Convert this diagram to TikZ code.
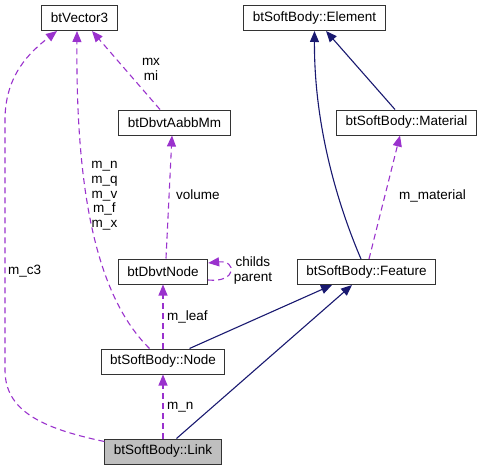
\documentclass[tikz,border=0pt]{standalone}
\usepackage{fontspec}
\setmainfont{Liberation Sans}
\usetikzlibrary{arrows.meta,positioning}
\definecolor{edgeblue}{HTML}{191970}
\definecolor{edgepurple}{HTML}{9A32CD}
\definecolor{linkgray}{HTML}{BFBFBF}

\begin{document}
\begin{tikzpicture}[
    x=1pt, y=-1pt,
    node distance=90pt,
    font=\fontsize{13.5}{14.7}\selectfont,
    box/.style={rectangle, draw=black!80, line width=1pt, fill=white, inner xsep=9pt, minimum height=25pt},
    inherit/.style={-{Triangle[length=11pt,width=9pt]}, edgeblue, line width=1.1pt},
    member/.style={-{Triangle[length=11pt,width=9pt]}, edgepurple, line width=1.1pt, dash pattern=on 6pt off 4pt},
    lbl/.style={inner sep=0pt, align=center}
]
    \useasboundingbox (0,0) rectangle (483,471);

    % Classes
    \node[box] (vector) at (79.5,18) {btVector3};
    \node[box] (aabb) at (174.5,122.5) {btDbvtAabbMm};
    \node[box] (dbvt) at (163,271.5) {btDbvtNode};
    \node[box, below of=dbvt] (sbnode) {btSoftBody::Node};
    \node[box, below of=sbnode, fill=linkgray] (link) {btSoftBody::Link};
    \node[box] (element) at (314.5,18) {btSoftBody::Element};
    \node[box] (material) at (406.5,122.5) {btSoftBody::Material};
    \node[box] (feature) at (366.5,272) {btSoftBody::Feature};

    % Inheritance
    \draw[inherit] ([xshift=-5.5pt]feature.north) .. controls (340,210) and (314,130) .. (element.south);
    \draw[inherit] ([xshift=-11.5pt]material.north) -- ([xshift=11.5pt]element.south);
    \draw[inherit] ([xshift=26.5pt]sbnode.north) -- ([xshift=-34.5pt]feature.south);
    \draw[inherit] ([xshift=13.5pt]link.north) -- ([xshift=-14.5pt]feature.south);

    % Members
    \draw[member] ([xshift=2.5pt]feature.north) -- ([xshift=-6.5pt]material.south);
    \draw[member] ([xshift=-14.5pt]aabb.north) -- ([xshift=12.5pt]vector.south);
    \draw[member] ([xshift=-13.5pt]sbnode.north) .. controls (90,290) and (76,170) .. ([xshift=-2.5pt]vector.south);
    \draw[member] ([yshift=10pt]link.west) .. controls (40,428) and (5,410) .. (5,370) -- (5,120)
        .. controls (5,75) and (30,52) .. ([xshift=-22.5pt]vector.south);
    \draw[member] ([xshift=3pt]dbvt.north) -- ([xshift=-2.5pt]aabb.south);
    \draw[member] ([yshift=-8.5pt]dbvt.east) .. controls (237,283) and (237,260) .. ([yshift=8.5pt]dbvt.east);
    \draw[member] (sbnode.north) -- (dbvt.south);
    \draw[member] (link.north) -- (sbnode.south);

    % Labels
    \node[lbl, anchor=west] (lmaterial) at (399,196) {m\_material};
    \node[lbl] (lmxmi) at (151,69.5) {mx\\mi};
    \node[lbl] (lvector) at (104.5,196) {m\_n\\m\_q\\m\_v\\m\_f\\m\_x};
    \node[lbl, anchor=west] (lc3) at (8,271) {m\_c3};
    \node[lbl, anchor=west] (lvolume) at (176,195) {volume};
    \node[lbl] (lchilds) at (253,270.5) {childs\\parent};
    \node[lbl, anchor=west] (lleaf) at (167,317) {m\_leaf};
    \node[lbl, anchor=west] (ln) at (167,407) {m\_n};
\end{tikzpicture}
\end{document}
